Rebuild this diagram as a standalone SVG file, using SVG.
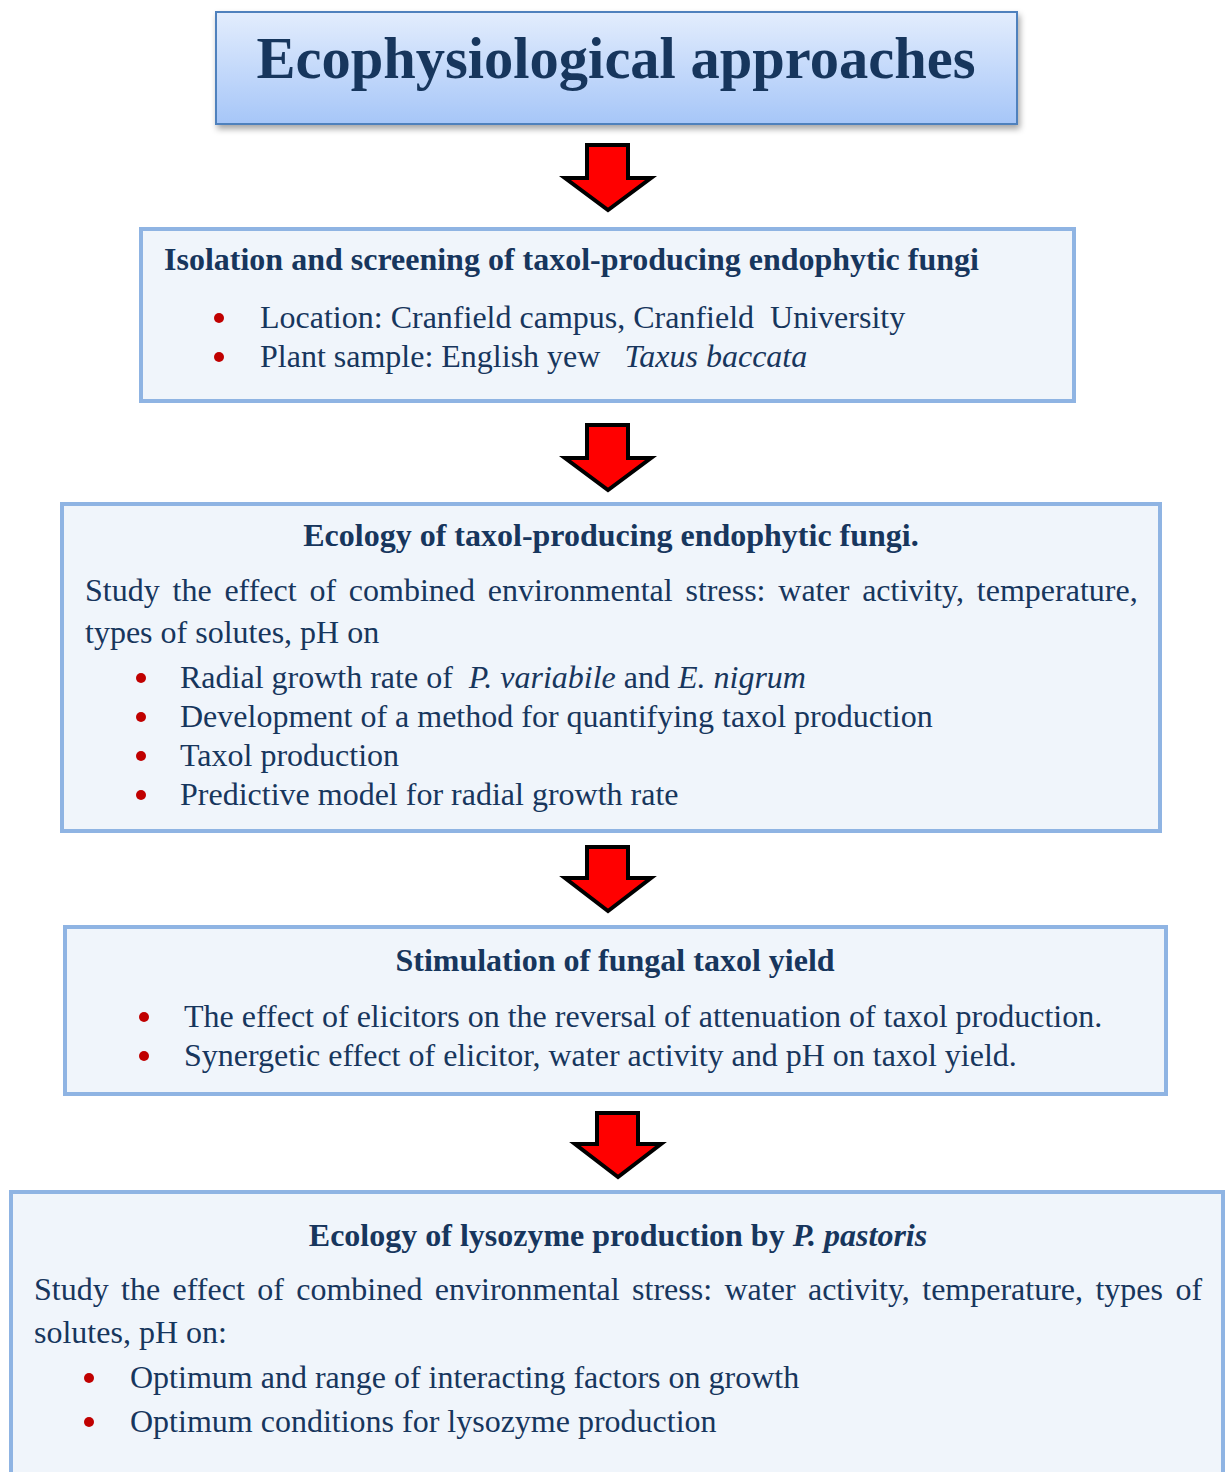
<svg xmlns="http://www.w3.org/2000/svg" width="1226" height="1472" viewBox="0 0 1226 1472">
<defs>
<linearGradient id="tg" x1="0" y1="0" x2="0" y2="1">
<stop offset="0" stop-color="#e3edfd"/>
<stop offset="1" stop-color="#a6c6f8"/>
</linearGradient>
<filter id="sh" x="-5%" y="-20%" width="110%" height="150%">
<feDropShadow dx="2" dy="4" stdDeviation="3" flood-color="#000" flood-opacity="0.35"/>
</filter>
<style>
.box{fill:#f0f5fb;stroke:#8fb4e3;stroke-width:4}
.t{font-family:"Liberation Serif","Times New Roman",serif;fill:#17365d;font-size:32px}
.b{font-weight:bold}
.bul{fill:#c00000}
.arr{fill:#ff0000;stroke:#000;stroke-width:4;stroke-linejoin:miter}
</style>
</defs>
<rect width="1226" height="1472" fill="#fff"/>

<g id="title">
<rect x="216" y="12" width="801" height="112" fill="url(#tg)" stroke="#4f81bd" stroke-width="2" filter="url(#sh)"/>
<text class="t b" x="616" y="78" text-anchor="middle" style="font-size:58.5px">Ecophysiological approaches</text>
</g>

<g id="box1">
<rect class="box" x="141" y="229" width="933" height="172"/>
<text class="t b" x="164" y="270">Isolation and screening of taxol-producing endophytic fungi</text>
<circle class="bul" cx="219" cy="318" r="5"/>
<text class="t" x="260" y="328" xml:space="preserve">Location: Cranfield campus, Cranfield  University</text>
<circle class="bul" cx="219" cy="357" r="5"/>
<text class="t" x="260" y="367" xml:space="preserve">Plant sample: English yew   <tspan font-style="italic">Taxus baccata</tspan></text>
</g>

<g id="box2">
<rect class="box" x="62" y="504" width="1098" height="327"/>
<text class="t b" x="611" y="546" text-anchor="middle">Ecology of taxol-producing endophytic fungi.</text>
<text class="t" x="85" y="601" word-spacing="4.8">Study the effect of combined environmental stress: water activity, temperature,</text>
<text class="t" x="85" y="643">types of solutes, pH on</text>
<circle class="bul" cx="141" cy="678" r="5"/>
<text class="t" x="180" y="688" xml:space="preserve">Radial growth rate of  <tspan font-style="italic">P. variabile</tspan> and <tspan font-style="italic">E. nigrum</tspan></text>
<circle class="bul" cx="141" cy="717" r="5"/>
<text class="t" x="180" y="727">Development of a method for quantifying taxol production</text>
<circle class="bul" cx="141" cy="756" r="5"/>
<text class="t" x="180" y="766">Taxol production</text>
<circle class="bul" cx="141" cy="795" r="5"/>
<text class="t" x="180" y="805">Predictive model for radial growth rate</text>
</g>

<g id="box3">
<rect class="box" x="65" y="927" width="1101" height="167"/>
<text class="t b" x="615" y="971" text-anchor="middle">Stimulation of fungal taxol yield</text>
<circle class="bul" cx="144" cy="1017" r="5"/>
<text class="t" x="184" y="1027">The effect of elicitors on the reversal of attenuation of taxol production.</text>
<circle class="bul" cx="144" cy="1056" r="5"/>
<text class="t" x="184" y="1066">Synergetic effect of elicitor, water activity and pH on taxol yield.</text>
</g>

<g id="box4">
<rect class="box" x="11" y="1192" width="1212" height="300"/>
<text class="t b" x="618" y="1246" text-anchor="middle">Ecology of lysozyme production by <tspan font-style="italic">P. pastoris</tspan></text>
<text class="t" x="34" y="1300" word-spacing="4.4">Study the effect of combined environmental stress: water activity, temperature, types of</text>
<text class="t" x="34" y="1343">solutes, pH on:</text>
<circle class="bul" cx="89" cy="1378" r="5"/>
<text class="t" x="130" y="1388">Optimum and range of interacting factors on growth</text>
<circle class="bul" cx="89" cy="1422" r="5"/>
<text class="t" x="130" y="1432">Optimum conditions for lysozyme production</text>
</g>

<g id="connectors">
<path class="arr" d="M587,145 H628 V178 H651 L608,210 L565,178 H587 Z"/>
<path class="arr" d="M587,425 H628 V458 H651 L608,490 L565,458 H587 Z"/>
<path class="arr" d="M587,847 H628 V878 H651 L608,911 L565,878 H587 Z"/>
<path class="arr" d="M597,1113 H638 V1144 H661 L618,1177 L575,1144 H597 Z"/>
</g>
</svg>
